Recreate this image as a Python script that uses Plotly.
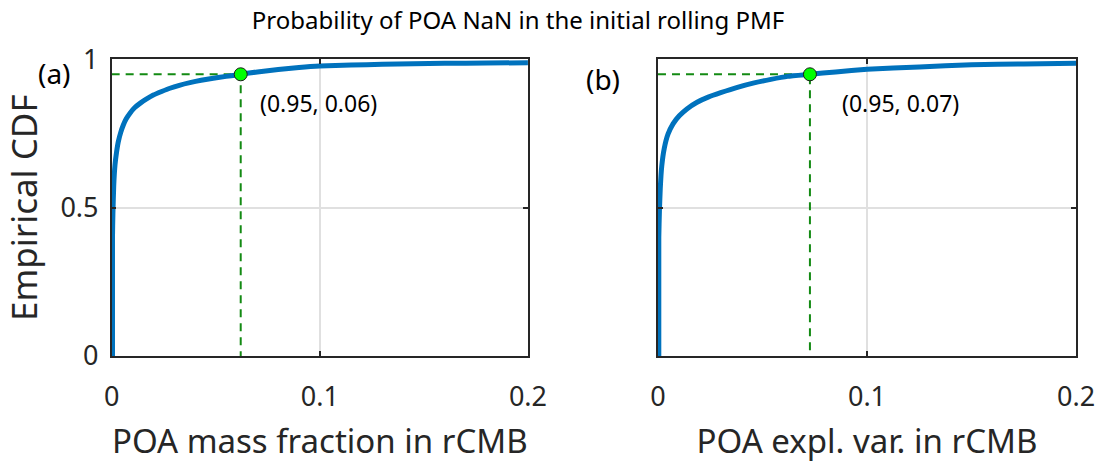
import plotly.graph_objects as go

# ---- data ----
x_mass = [0.0004, 0.0004, 0.0006, 0.0010, 0.0016, 0.0024, 0.0032, 0.0044, 0.0056, 0.0070,
          0.0088, 0.0110, 0.0136, 0.0166, 0.020, 0.024, 0.028, 0.0325, 0.0376, 0.043,
          0.0488, 0.055, 0.060, 0.062, 0.070, 0.080, 0.090, 0.100, 0.115, 0.130,
          0.145, 0.160, 0.180, 0.200]
cdf_mass = [0.0, 0.40, 0.480, 0.575, 0.644, 0.690, 0.723, 0.755, 0.779, 0.800,
            0.819, 0.837, 0.852, 0.866, 0.880, 0.892, 0.903, 0.913, 0.922, 0.930,
            0.937, 0.943, 0.948, 0.950, 0.958, 0.966, 0.973, 0.978, 0.981, 0.984,
            0.986, 0.987, 0.988, 0.989]

x_var = [0.0004, 0.0004, 0.0007, 0.0011, 0.0018, 0.0030, 0.0048, 0.0072, 0.0102, 0.0140,
         0.0185, 0.024, 0.030, 0.038, 0.046, 0.054, 0.062, 0.0727, 0.085, 0.100,
         0.125, 0.150, 0.175, 0.200]
cdf_var = [0.0, 0.40, 0.490, 0.565, 0.640, 0.700, 0.748, 0.783, 0.810, 0.834,
           0.855, 0.873, 0.888, 0.906, 0.921, 0.933, 0.943, 0.950, 0.958, 0.967,
           0.975, 0.982, 0.985, 0.987]

p95 = 0.95
x95_mass = 0.062
x95_var = 0.0727
labels_95 = ["(0.95, 0.06)", "(0.95, 0.07)"]
panel_labels = ["(a)", "(b)"]
x_titles = ["POA mass fraction in rCMB", "POA expl. var. in rCMB"]
y_title = "Empirical CDF"
title = "Probability of POA NaN in the initial rolling PMF"
x_ticks = [0, 0.1, 0.2]
x_ticktext = ["0", "0.1", "0.2"]
y_ticks = [0, 0.5, 1]
y_ticktext = ["0", "0.5", "1"]

FONT = "Noto Sans"
BLUE = "#0072BD"
GREEN = "#138a13"
AX = "#262626"
GRID = "#e0e0e0"
LBL = 33
TCK = 27

fig = go.Figure()

for i, (xs, ys, x95) in enumerate([(x_mass, cdf_mass, x95_mass), (x_var, cdf_var, x95_var)]):
    xa = "x" if i == 0 else "x2"
    ya = "y" if i == 0 else "y2"
    fig.add_trace(go.Scatter(x=[0, x95, x95], y=[p95, p95, 0], mode="lines",
                             line=dict(color=GREEN, width=2, dash="8px,6px"),
                             xaxis=xa, yaxis=ya, showlegend=False, hoverinfo="skip"))
    fig.add_trace(go.Scatter(x=xs, y=ys, mode="lines",
                             line=dict(color=BLUE, width=5, shape="spline", smoothing=0.4),
                             xaxis=xa, yaxis=ya, showlegend=False))
    fig.add_trace(go.Scatter(x=[x95], y=[p95], mode="markers",
                             marker=dict(color="#00ff00", size=13, line=dict(color="#1a1a1a", width=1)),
                             xaxis=xa, yaxis=ya, showlegend=False, cliponaxis=False))


def xaxis(domain, anchor, text):
    return dict(domain=domain, anchor=anchor, range=[0, 0.2], tickvals=x_ticks, ticktext=x_ticktext,
                showgrid=True, gridcolor=GRID, gridwidth=1.5,
                showline=True, linecolor=AX, linewidth=1.5, mirror="ticks",
                ticks="inside", ticklen=5, tickcolor=AX, tickwidth=1.5,
                zeroline=False, tickfont=dict(family=FONT, size=TCK, color=AX),
                ticklabelstandoff=16, automargin=False,
                title=dict(text=text, font=dict(family=FONT, size=LBL, color=AX), standoff=17))


def yaxis(anchor, labels, text=None):
    d = dict(domain=[0.2328, 0.8718], anchor=anchor, range=[0, 1], tickvals=y_ticks,
             showgrid=True, gridcolor=GRID, gridwidth=1.5,
             showline=True, linecolor=AX, linewidth=1.5, mirror="ticks",
             ticks="inside", ticklen=5, tickcolor=AX, tickwidth=1.5, zeroline=False,
             automargin=False, showticklabels=labels)
    if labels:
        d.update(ticktext=y_ticktext, tickfont=dict(family=FONT, size=TCK, color=AX), ticklabelstandoff=6,
                 title=dict(text=text, font=dict(family=FONT, size=35, color=AX), standoff=16))
    return d


fig.update_layout(
    width=1099, height=464,
    margin=dict(l=0, r=0, t=0, b=0),
    paper_bgcolor="white", plot_bgcolor="white",
    xaxis=xaxis([0.1016, 0.4804], "y", x_titles[0]),
    xaxis2=xaxis([0.5987, 0.9791], "y2", x_titles[1]),
    yaxis=yaxis("x", True, y_title),
    yaxis2=yaxis("x2", False),
    title=dict(text=title, x=518/1099, xanchor="center", y=1-21/464, yanchor="middle",
               font=dict(family=FONT, size=24, color="black"), automargin=False),
)

fig.add_annotation(x=0.0703, y=0.853, xref="x", yref="y", text=labels_95[0], showarrow=False,
                   xanchor="left", yanchor="middle", font=dict(family=FONT, size=23, color="black"))
fig.add_annotation(x=0.0871, y=0.853, xref="x2", yref="y2", text=labels_95[1], showarrow=False,
                   xanchor="left", yanchor="middle", font=dict(family=FONT, size=23, color="black"))
fig.add_annotation(x=54/1099, y=1-73/464, xref="paper", yref="paper", text=panel_labels[0], showarrow=False,
                   xanchor="center", yanchor="middle", font=dict(family=FONT, size=28, color="black"))
fig.add_annotation(x=603/1099, y=1-79/464, xref="paper", yref="paper", text=panel_labels[1], showarrow=False,
                   xanchor="center", yanchor="middle", font=dict(family=FONT, size=28, color="black"))

fig.write_html("out.html")
